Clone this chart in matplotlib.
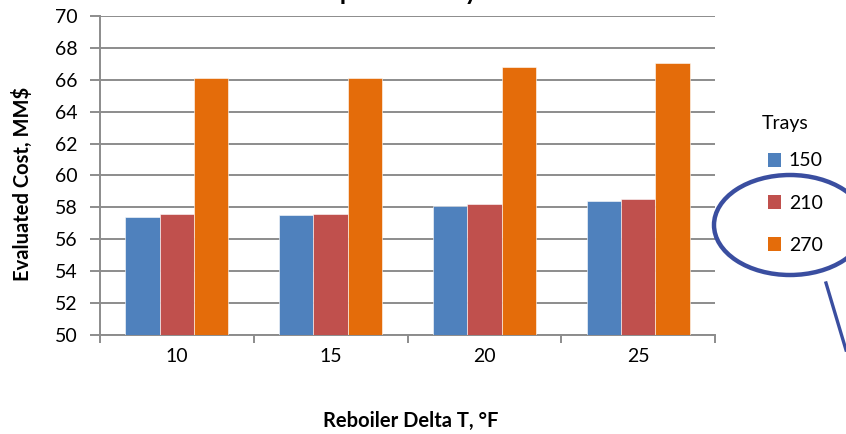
import matplotlib
matplotlib.use("Agg")
import matplotlib.pyplot as plt
from matplotlib.patches import Ellipse, Patch
from matplotlib.lines import Line2D
import numpy as np

# Reboiler delta T categories and evaluated cost per tray count
delta_t = ["10", "15", "20", "25"]
trays = ["150", "210", "270"]
cost_150 = [57.4, 57.5, 58.1, 58.4]
cost_210 = [57.6, 57.6, 58.2, 58.55]
cost_270 = [66.1, 66.1, 66.8, 67.05]
series = [cost_150, cost_210, cost_270]
colors = ["#4F81BD", "#C0504D", "#E46C0A"]

W, H = 846, 434
fig = plt.figure(figsize=(W / 100, H / 100), dpi=100)
ax = fig.add_axes([100 / W, 1 - 335 / H, 615 / W, 319 / H])

font = "Lato"
fs = 14
grid_c = "#8C8C8C"

x = np.arange(len(delta_t))
bw = 0.223
for i, (vals, c) in enumerate(zip(series, colors)):
    ax.bar(x + (i - 1) * bw, vals, width=bw, color=c, zorder=3,
           edgecolor="white", linewidth=0.4)

ax.set_xlim(-0.5, len(delta_t) - 0.5)
ax.set_ylim(50, 70)
ax.set_yticks(np.arange(50, 71, 2))
ax.yaxis.grid(True, color=grid_c, linewidth=1.4, zorder=0)
ax.set_axisbelow(True)

# category boundary ticks, labels at centers
ax.set_xticks(np.arange(-0.5, len(delta_t), 1.0))
ax.set_xticklabels([])
ax.set_xticks(x, minor=True)
ax.set_xticklabels(delta_t, minor=True, fontfamily=font, fontsize=fs)
ax.tick_params(axis="x", which="minor", length=0, pad=9)
ax.tick_params(axis="x", which="major", length=6, width=1.4, color=grid_c)
ax.tick_params(axis="y", length=7, width=1.4, color=grid_c, pad=9)
for lbl in ax.get_yticklabels():
    lbl.set_fontfamily(font)
    lbl.set_fontsize(fs)

for s in ["top", "right"]:
    ax.spines[s].set_visible(False)
for s in ["left", "bottom"]:
    ax.spines[s].set_color(grid_c)
    ax.spines[s].set_linewidth(1.4)

fig.text(22 / W, 1 - 184 / H, "Evaluated Cost, MM$", fontfamily=font,
         fontsize=14.5, fontweight="bold", ha="center", va="center",
         rotation=90)
fig.text(411 / W, 1 - 421 / H, "Reboiler Delta T, °F", fontfamily=font,
         fontsize=14.5, fontweight="bold", ha="center", va="center")

# chart title sits mostly above the canvas
fig.text(398 / W, 1 + 0.5 / H, "C3 Splitter Analysis", fontfamily=font,
         fontsize=18, fontweight="bold", ha="center", va="baseline")

# legend: heading plus one swatch per tray count
fig.text(762 / W, 1 - 123 / H, "Trays", fontfamily=font, fontsize=fs,
         ha="left", va="center")
handles = [Patch(facecolor=c, edgecolor="none") for c in colors]
fig.legend(handles, trays, loc="upper left",
           bbox_to_anchor=(750 / W, 1 - 135 / H), frameon=False,
           prop={"family": font, "size": fs},
           handlelength=0.7, handleheight=0.7, handletextpad=0.4,
           labelspacing=1.3)

# callout ellipse around the legend entries
ring = "#3A4EA0"
fig.add_artist(Ellipse((790 / W, 1 - 225 / H), 152 / W, 100 / H,
                       transform=fig.transFigure, fill=False,
                       edgecolor=ring, linewidth=3.2))
fig.add_artist(Line2D([826 / W, 846 / W], [1 - 283 / H, 1 - 350 / H],
                      transform=fig.transFigure, color=ring, linewidth=2.4))

fig.savefig("out.png", dpi=100)
